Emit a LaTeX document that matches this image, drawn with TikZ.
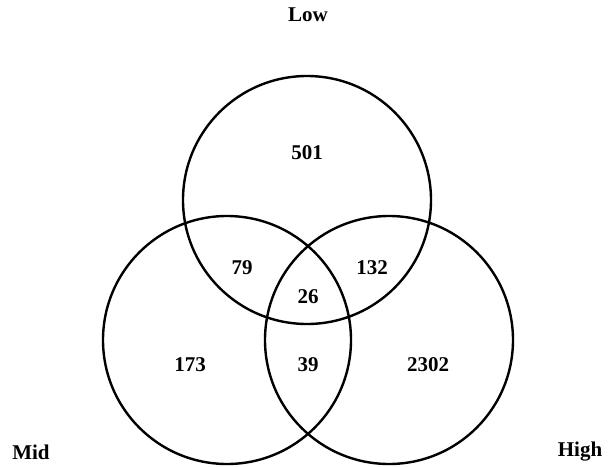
\documentclass[tikz,border=0pt]{standalone}
\usepackage{fontspec}
\setmainfont{Liberation Serif}
\begin{document}
\begin{tikzpicture}[x=1pt,y=-1pt,
  setcircle/.style={circle, draw=black, line width=2.4pt, minimum size=248pt, inner sep=0pt, outer sep=0pt},
  lbl/.style={font=\bfseries\fontsize{21}{24}\selectfont, inner sep=0pt}]
\useasboundingbox (0,0) rectangle (612,466);
\node[setcircle] (low) at (307,200) {};
\node[setcircle] (mid) at (227,340) {};
\node[setcircle] (high) at (389,340) {};
\node[lbl] (tlow) at (308,15) {Low};
\node[lbl] (tmid) at (31,452) {Mid};
\node[lbl] (thigh) at (580,452) {High};
\node[lbl] (n501) at (307,153) {501};
\node[lbl] (n79) at (242,268) {79};
\node[lbl] (n132) at (372,268) {132};
\node[lbl] (n26) at (308,297) {26};
\node[lbl] (n173) at (190,365) {173};
\node[lbl] (n39) at (308,365) {39};
\node[lbl] (n2302) at (428,365) {2302};
\end{tikzpicture}
\end{document}
